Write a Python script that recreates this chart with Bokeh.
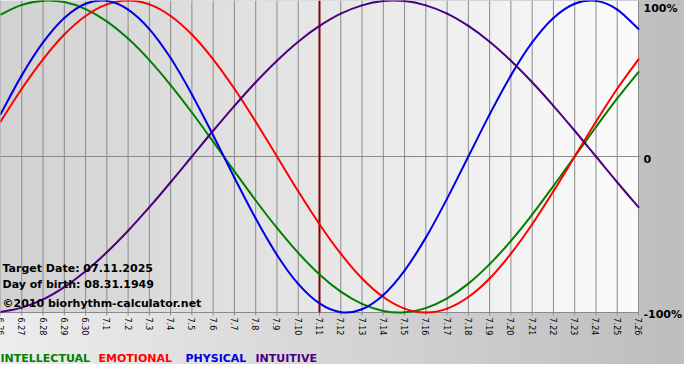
import numpy as np
from bokeh.plotting import figure
from bokeh.models import Range1d
from bokeh.embed import file_html
from bokeh.resources import INLINE
from bokeh.core.properties import value

# ---- data ----
dates = ["6.26", "6.27", "6.28", "6.29", "6.30", "7.1", "7.2", "7.3", "7.4", "7.5",
         "7.6", "7.7", "7.8", "7.9", "7.10", "7.11", "7.12", "7.13", "7.14", "7.15",
         "7.16", "7.17", "7.18", "7.19", "7.20", "7.21", "7.22", "7.23", "7.24", "7.25", "7.26"]

intellectual = [0.910, 0.972, 0.999, 0.990, 0.945, 0.866, 0.756, 0.618, 0.458, 0.282,
                0.095, -0.095, -0.282, -0.458, -0.618, -0.756, -0.866, -0.945, -0.990, -0.999,
                -0.972, -0.910, -0.815, -0.690, -0.541, -0.372, -0.189, 0.0, 0.189, 0.372, 0.541]

emotional = [0.223, 0.434, 0.623, 0.782, 0.901, 0.975, 1.0, 0.975, 0.901, 0.782,
             0.623, 0.434, 0.223, 0.0, -0.223, -0.434, -0.623, -0.782, -0.901, -0.975,
             -1.0, -0.975, -0.901, -0.782, -0.623, -0.434, -0.223, 0.0, 0.223, 0.434, 0.623]

physical = [0.270, 0.520, 0.731, 0.888, 0.979, 0.998, 0.942, 0.817, 0.631, 0.398,
            0.136, -0.136, -0.398, -0.631, -0.817, -0.942, -0.998, -0.979, -0.888, -0.731,
            -0.520, -0.270, 0.0, 0.270, 0.520, 0.731, 0.888, 0.979, 0.998, 0.942, 0.817]

intuitive = [-0.997, -0.969, -0.916, -0.837, -0.736, -0.614, -0.476, -0.325, -0.165, 0.0,
             0.165, 0.325, 0.476, 0.614, 0.736, 0.837, 0.916, 0.969, 0.997, 0.997,
             0.969, 0.916, 0.837, 0.736, 0.614, 0.476, 0.325, 0.165, 0.0, -0.165, -0.325]

target_day = "7.11"
target_date = "07.11.2025"
birth_date = "08.31.1949"
y_labels = ["100%", "0", "-100%"]
y_label_values = [1, 0, -1]
series_names = ["INTELLECTUAL", "EMOTIONAL", "PHYSICAL", "INTUITIVE"]

# ---- styling / geometry ----
C_INT = "#008000"
C_EMO = "#ff0000"
C_PHY = "#0000e6"
C_ITU = "#4b0082"
GRID = "#8a8a8a"
FONT = value("DejaVu Sans")

W, H = 684, 364          # figure size
PW, PH = 638, 312        # plot-area size in pixels (top-left of figure)
ndays = len(dates) - 1
px_x = ndays / PW        # data units per pixel
px_y = 2.0 / PH

xs = list(range(len(dates)))

p = figure(width=W, height=H,
           x_range=Range1d(0, W * px_x), y_range=Range1d(1 - H * px_y, 1),
           output_backend="svg", toolbar_location=None,
           x_axis_location=None, y_axis_location=None,
           min_border=0, min_border_left=0, min_border_right=0,
           min_border_top=0, min_border_bottom=0)
p.xgrid.visible = False
p.ygrid.visible = False
p.background_fill_color = None
p.border_fill_color = None
p.outline_line_color = None
p.styles = {"background": "linear-gradient(to right, #ededed, #bdbdbd)"}

# plot-area gradient (grey on the left to near-white on the right)
n = 256
t = np.linspace(0, 1, n)
g = (210 + (251 - 210) * t).astype(np.uint8)
img = np.empty((1, n), dtype=np.uint32)
view = img.view(dtype=np.uint8).reshape((1, n, 4))
view[..., 0] = g
view[..., 1] = g
view[..., 2] = g
view[..., 3] = 255
p.image_rgba(image=[img], x=0, y=-1, dw=ndays, dh=2, level="image")

# vertical day grid lines (with small tick below the plot)
tick = 3 * px_y
p.segment(x0=xs, y0=[1] * len(xs), x1=xs, y1=[-1 - tick] * len(xs),
          line_color=GRID, line_width=1)
# zero line and bottom border
p.segment(x0=[0, 0], y0=[0, -1], x1=[ndays + 2 * px_x, ndays], y1=[0, -1],
          line_color=GRID, line_width=1)

# target day marker
ti = dates.index(target_day)
p.segment(x0=[ti], y0=[1], x1=[ti], y1=[-1], line_color="#800000", line_width=2)


# smooth curves through the daily points (Catmull-Rom rendered as cubic Beziers)
def smooth(xv, yv, color):
    xv = list(xv)
    yv = list(yv)
    x0, y0, x1, y1, cx0, cy0, cx1, cy1 = [], [], [], [], [], [], [], []
    m = len(xv)
    for i in range(m - 1):
        ip = max(i - 1, 0)
        inn = min(i + 2, m - 1)
        x0.append(xv[i]); y0.append(yv[i])
        x1.append(xv[i + 1]); y1.append(yv[i + 1])
        cx0.append(xv[i] + (xv[i + 1] - xv[ip]) / 6.0)
        cy0.append(yv[i] + (yv[i + 1] - yv[ip]) / 6.0)
        cx1.append(xv[i + 1] - (xv[inn] - xv[i]) / 6.0)
        cy1.append(yv[i + 1] - (yv[inn] - yv[i]) / 6.0)
    p.bezier(x0=x0, y0=y0, x1=x1, y1=y1, cx0=cx0, cy0=cy0, cx1=cx1, cy1=cy1,
             line_color=color, line_width=2, line_cap="round")


smooth(xs, intellectual, C_INT)
smooth(xs, emotional, C_EMO)
smooth(xs, physical, C_PHY)
smooth(xs, intuitive, C_ITU)

# date labels under the plot, rotated to read top-to-bottom
p.text(x=xs, y=[-1 - 5 * px_y] * len(xs), text=dates, angle=-np.pi / 2,
       text_align="left", text_baseline="middle", text_font=FONT,
       text_font_size="8px", text_color="#000000")

# right-side percentage labels
rl_y = [v - (1 if v == 1 else 2) * px_y for v in y_label_values]
rl_base = ["top" if v == 1 else "middle" for v in y_label_values]
for txt, yy, base in zip(y_labels, rl_y, rl_base):
    p.text(x=[ndays + 5 * px_x], y=[yy], text=[txt], text_align="left",
           text_baseline=base, text_font=FONT, text_font_size="11px",
           text_font_style="bold", text_color="#000000")

# info texts
info = ["Target Date: " + target_date, "Day of birth: " + birth_date,
        "\u00a92010 biorhythm-calculator.net"]
info_px = [268, 284, 303]
p.text(x=[2 * px_x] * 3, y=[1 - v * px_y for v in info_px], text=info,
       text_align="left", text_baseline="alphabetic", text_font=FONT,
       text_font_size="11px", text_font_style="bold", text_color="#000000")

# legend: coloured words below the plot
leg_px = [0, 98, 185, 255]
for name, col, lx in zip(series_names, [C_INT, C_EMO, C_PHY, C_ITU], leg_px):
    p.text(x=[lx * px_x], y=[1 - 358 * px_y], text=[name], text_align="left",
           text_baseline="alphabetic", text_font=FONT, text_font_size="11px",
           text_font_style="bold", text_color=col)

open("out.html", "w").write(file_html(p, INLINE))
